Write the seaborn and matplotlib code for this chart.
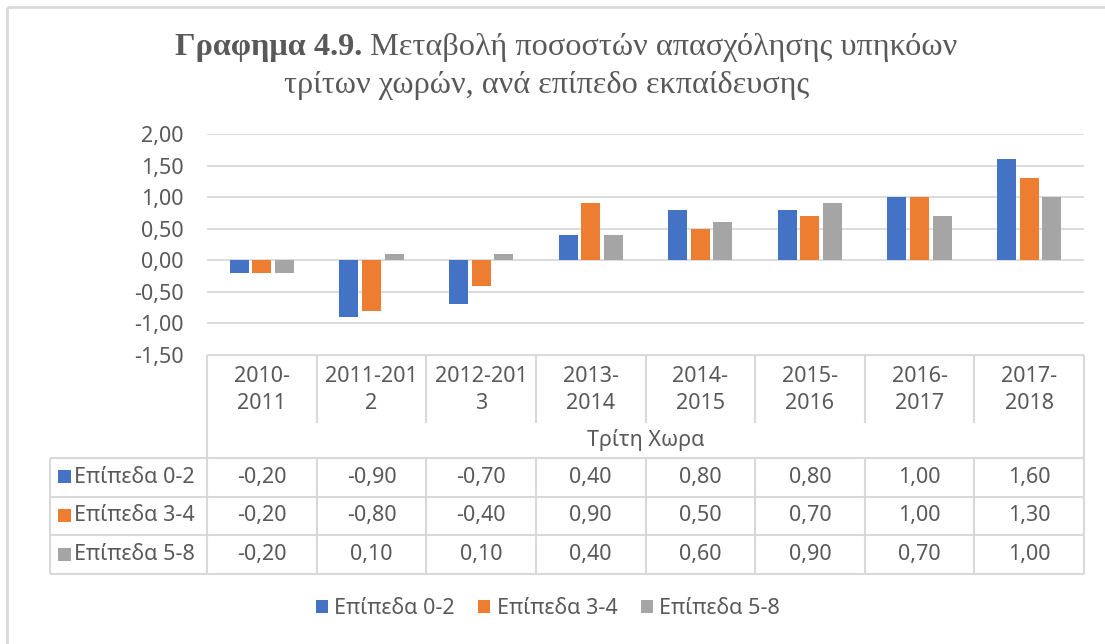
import numpy as np
import pandas as pd
import seaborn as sns
import matplotlib.pyplot as plt
from matplotlib.patches import Rectangle

# data
periods = ["2010-2011", "2011-2012", "2012-2013", "2013-2014",
           "2014-2015", "2015-2016", "2016-2017", "2017-2018"]
period_labels = ["2010-\n2011", "2011-201\n2", "2012-201\n3", "2013-\n2014",
                 "2014-\n2015", "2015-\n2016", "2016-\n2017", "2017-\n2018"]
levels = ["Επίπεδα 0-2", "Επίπεδα 3-4", "Επίπεδα 5-8"]
level_0_2 = [-0.20, -0.90, -0.70, 0.40, 0.80, 0.80, 1.00, 1.60]
level_3_4 = [-0.20, -0.80, -0.40, 0.90, 0.50, 0.70, 1.00, 1.30]
level_5_8 = [-0.20, 0.10, 0.10, 0.40, 0.60, 0.90, 0.70, 1.00]
y_ticks = [-1.5, -1.0, -0.5, 0.0, 0.5, 1.0, 1.5, 2.0]
axis_title = "Τρίτη Χωρα"

colors = ["#4472C4", "#ED7D31", "#A5A5A5"]
TXT = "#595959"
GRID = "#D9D9D9"
FS = 15.5
W, H = 1105, 644

df = pd.DataFrame({
    "period": periods * 3,
    "level": np.repeat(levels, len(periods)),
    "value": level_0_2 + level_3_4 + level_5_8,
})

sns.set_theme(style="white")
plt.rcParams["font.family"] = ["Noto Sans", "DejaVu Sans"]

fig = plt.figure(figsize=(W / 100, H / 100), dpi=100)

# plot area in pixels
x0, x1 = 207, 1084
y_top, y_bot = 134, 355
ax = fig.add_axes([x0 / W, 1 - y_bot / H, (x1 - x0) / W, (y_bot - y_top) / H])
sns.barplot(data=df, x="period", y="value", hue="level", order=periods,
            hue_order=levels, palette=colors, saturation=1, width=0.62,
            gap=0.16, linewidth=0, legend=False, ax=ax)
ax.set_xlim(-0.5, len(periods) - 0.5)
ax.set_ylim(-1.5, 2.0)
ax.set_yticks(y_ticks)
ax.set_yticklabels([f"{v:.2f}".replace(".", ",") for v in y_ticks])
ax.tick_params(axis="y", length=0, pad=17, labelsize=FS, labelcolor=TXT)
ax.set_xticks([])
ax.set_xlabel("")
ax.set_ylabel("")
for s in ax.spines.values():
    s.set_visible(False)
for v in y_ticks:
    ax.axhline(v, color=GRID, lw=1.3, zorder=0)

# overlay in pixel coordinates for the data table and frame
ov = fig.add_axes([0, 0, 1, 1], zorder=-1)
ov.set_xlim(0, W)
ov.set_ylim(H, 0)
ov.axis("off")


def line(xs, ys, lw=1.5):
    ov.plot(xs, ys, color=GRID, lw=lw, solid_capstyle="butt")


# outer chart frame
line([7, W], [7, 7], lw=2)
line([7, 7], [7, H], lw=2)

cw = (x1 - x0) / len(periods)
head_bot = 423
row_tops = [458, 496.5, 535, 574]

# header with period labels
line([x0, x1], [y_bot, y_bot])
for i in range(len(periods) + 1):
    xx = x0 + i * cw
    if i == 0 or i == len(periods):
        line([xx, xx], [y_bot, row_tops[-1]])
    else:
        line([xx, xx], [y_bot, head_bot])
for i, lab in enumerate(period_labels):
    ov.text(x0 + (i + 0.5) * cw, 390, lab, ha="center", va="center",
            fontsize=FS, color=TXT, linespacing=1.35)
ov.text((x0 + x1) / 2, 440, axis_title, ha="center", va="center",
        fontsize=FS, color=TXT)

# data rows
tab_x0 = 50
for yy in row_tops:
    line([tab_x0, x1], [yy, yy])
line([tab_x0, tab_x0], [row_tops[0], row_tops[-1]])
for i in range(1, len(periods)):
    xx = x0 + i * cw
    line([xx, xx], [row_tops[0], row_tops[-1]])
series = [level_0_2, level_3_4, level_5_8]
for r, (name, vals, col) in enumerate(zip(levels, series, colors)):
    yc = (row_tops[r] + row_tops[r + 1]) / 2
    ov.add_patch(Rectangle((58, yc - 7), 13, 13, color=col, lw=0))
    ov.text(74, yc, name, ha="left", va="center", fontsize=FS, color=TXT)
    for i, v in enumerate(vals):
        ov.text(x0 + (i + 0.5) * cw, yc, f"{v:.2f}".replace(".", ","),
                ha="center", va="center", fontsize=FS, color=TXT)

# bottom legend
handles = [Rectangle((0, 0), 1, 1, color=c, lw=0) for c in colors]
fig.legend(handles, levels, loc="center", bbox_to_anchor=(548 / W, 1 - 609 / H),
           ncol=3, frameon=False, fontsize=FS, labelcolor=TXT,
           handlelength=0.55, handleheight=0.55, handletextpad=0.3,
           columnspacing=1.1)

# title: bold lead-in followed by regular text
serif = ["Liberation Serif", "DejaVu Serif"]
TFS = 23.2
t1 = fig.text(175 / W, 1 - 47 / H, "Γραφημα 4.9.", family=serif,
              fontweight="bold", fontsize=TFS, color=TXT, ha="left", va="center")
ov.annotate(" Μεταβολή ποσοστών απασχόλησης υπηκόων", xy=(1, 0.5),
            xycoords=t1, ha="left", va="center", family=serif,
            fontsize=TFS, color=TXT)
fig.text(547 / W, 1 - 85 / H, "τρίτων χωρών, ανά επίπεδο εκπαίδευσης",
         family=serif, fontsize=TFS, color=TXT, ha="center", va="center")

fig.savefig("out.png", dpi=100, facecolor="white")
